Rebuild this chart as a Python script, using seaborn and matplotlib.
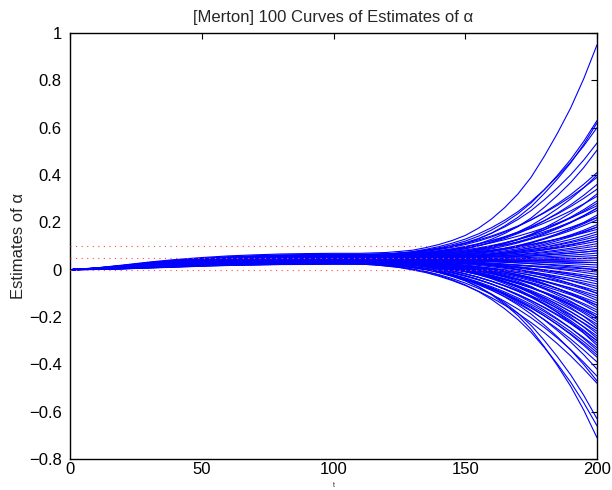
import numpy as np
import pandas as pd
import matplotlib
matplotlib.use("Agg")
import matplotlib.pyplot as plt
import seaborn as sns

# time grid on which the estimate curves are tabulated
t_knots = [0, 10, 20, 30, 40, 50, 60, 70, 80, 90, 100, 105, 110, 115, 120, 125,
           130, 135, 140, 145, 150, 155, 160, 165, 170, 175, 180, 185, 190, 195, 200]

# common path of the bundle of estimates
bundle_level = [0.000, 0.004, 0.011, 0.019, 0.026, 0.032, 0.037, 0.040, 0.043, 0.044,
                0.045, 0.045, 0.045, 0.045, 0.044, 0.044, 0.043, 0.043, 0.042, 0.041,
                0.040, 0.039, 0.038, 0.037, 0.036, 0.035, 0.034, 0.033, 0.032, 0.031,
                0.030]

# how much of each curve's early offset is present at each time
offset_weight = [0.00, 0.15, 0.35, 0.55, 0.70, 0.80, 0.88, 0.94, 0.97, 1.00,
                 1.00, 1.00, 1.00, 1.00, 1.00, 1.00, 1.00, 1.00, 1.00, 1.00,
                 1.00, 1.00, 1.00, 1.00, 1.00, 1.00, 1.00, 1.00, 1.00, 1.00,
                 1.00]

# share of the final divergence reached at each time, late-breaking curves
late_share = [0.000, 0.000, 0.000, 0.000, 0.000, 0.000, 0.000, 0.000, 0.000, 0.000,
              0.000, 0.000, 0.000, 0.002, 0.005, 0.010, 0.017, 0.029, 0.045, 0.065,
              0.090, 0.125, 0.170, 0.225, 0.290, 0.370, 0.470, 0.580, 0.700, 0.840,
              1.000]

# share of the final divergence reached at each time, early-breaking curves
early_share = [0.000, 0.000, 0.000, 0.000, 0.000, 0.000, 0.000, 0.000, 0.000, 0.000,
               0.000, 0.001, 0.003, 0.009, 0.018, 0.031, 0.049, 0.072, 0.101, 0.136,
               0.177, 0.225, 0.279, 0.341, 0.410, 0.487, 0.572, 0.666, 0.768, 0.880,
               1.000]

# estimate of alpha at t = 200 for each of the 100 curves
curve_end = [
    0.95, 0.63, 0.62, 0.60, 0.535, 0.505, 0.41, 0.40, 0.39, 0.36,
    0.34, 0.32, 0.31, 0.29, 0.28, 0.27, 0.26, 0.26, 0.25, 0.23,
    0.22, 0.22, 0.21, 0.19, 0.18, 0.18, 0.17, 0.16, 0.15, 0.14,
    0.13, 0.13, 0.12, 0.11, 0.10, 0.09, 0.08, 0.08, 0.07, 0.06,
    0.05, 0.05, 0.04, 0.03, 0.03, 0.02, 0.01, 0.00, 0.00, -0.01,
    -0.02, -0.03, -0.04, -0.04, -0.05, -0.06, -0.07, -0.08, -0.09, -0.10,
    -0.10, -0.11, -0.12, -0.13, -0.14, -0.15, -0.15, -0.16, -0.17, -0.18,
    -0.19, -0.20, -0.20, -0.21, -0.22, -0.23, -0.24, -0.25, -0.25, -0.26,
    -0.27, -0.28, -0.29, -0.30, -0.30, -0.31, -0.32, -0.33, -0.34, -0.35,
    -0.36, -0.37, -0.39, -0.42, -0.45, -0.47, -0.48, -0.63, -0.66, -0.71,
]

# early offset of each curve from the common path
curve_offset = [
    0.024, 0.018, 0.020, 0.015, 0.017, 0.012, 0.014, 0.010, 0.016, 0.008,
    0.011, 0.006, 0.013, 0.009, 0.004, 0.012, 0.007, 0.002, 0.010, 0.005,
    0.003, 0.009, -0.001, 0.006, 0.004, -0.003, 0.008, 0.001, 0.005, -0.002,
    0.003, 0.007, -0.004, 0.002, 0.000, 0.006, -0.005, 0.004, 0.001, -0.002,
    0.003, -0.006, 0.000, 0.005, -0.003, 0.002, -0.001, -0.007, 0.004, -0.004,
    0.001, -0.002, -0.008, 0.003, -0.005, -0.001, -0.009, 0.000, -0.004, -0.006,
    0.002, -0.010, -0.003, -0.007, 0.001, -0.005, -0.011, -0.002, -0.008, -0.004,
    -0.012, -0.006, -0.001, -0.009, -0.013, -0.005, -0.010, -0.003, -0.014, -0.008,
    -0.011, -0.006, -0.015, -0.009, -0.012, -0.016, -0.007, -0.013, -0.010, -0.017,
    -0.014, -0.018, -0.011, -0.016, -0.019, -0.015, -0.020, -0.018, -0.021, -0.022,
]

# how early each curve breaks away (0 = late, 1 = early)
curve_break = [
    0.0, 0.2, 0.0, 0.5, 0.3, 0.0, 0.6, 0.2, 0.8, 0.4,
    0.7, 0.1, 0.9, 0.3, 0.6, 1.0, 0.2, 0.5, 0.8, 0.0,
    0.4, 0.9, 0.6, 0.1, 0.7, 0.3, 1.0, 0.5, 0.2, 0.8,
    0.6, 0.0, 0.9, 0.4, 0.7, 0.2, 1.0, 0.5, 0.3, 0.8,
    0.1, 0.6, 0.9, 0.3, 0.7, 0.0, 0.5, 1.0, 0.2, 0.8,
    0.4, 0.9, 0.1, 0.6, 0.3, 1.0, 0.7, 0.2, 0.8, 0.5,
    0.0, 0.9, 0.6, 0.3, 1.0, 0.4, 0.8, 0.1, 0.7, 0.5,
    0.9, 0.2, 1.0, 0.6, 0.3, 0.8, 0.0, 0.7, 0.5, 1.0,
    0.4, 0.9, 0.2, 1.0, 0.6, 0.8, 0.3, 1.0, 0.7, 0.9,
    1.0, 0.8, 1.0, 0.6, 0.9, 0.5, 1.0, 0.2, 0.4, 0.0,
]

# reference levels drawn as dotted lines
reference_levels = [0.0, 0.05, 0.10]

# long-form table: one row per curve and time
tk = np.array(t_knots, dtype=float)
base = np.array(bundle_level)
w = np.array(offset_weight)
g_late = np.array(late_share)
g_early = np.array(early_share)
rows = []
for i, (e, o, b) in enumerate(zip(curve_end, curve_offset, curve_break)):
    g = (1 - b) * g_late + b * g_early
    vals = base + o * w + (e - base[-1] - o) * g
    rows.append(pd.DataFrame({"curve": i, "t": tk, "alpha": vals}))
df = pd.concat(rows, ignore_index=True)

sns.set_theme(style="white")
plt.rcParams["font.family"] = ["Liberation Sans", "DejaVu Sans"]
plt.rcParams["axes.unicode_minus"] = True

fig = plt.figure(figsize=(6.12, 4.90), dpi=100)
ax = fig.add_axes([70 / 612, 31 / 490, 527 / 612, 426 / 490])

sns.lineplot(data=df, x="t", y="alpha", units="curve", estimator=None,
             color="#0000ff", linewidth=0.8, ax=ax, legend=False)

for lvl in reference_levels:
    ax.axhline(lvl, color="#ff4a4a", linewidth=0.8, linestyle=(0, (1, 4)), zorder=5)

ax.set_xlim(0, 200)
ax.set_ylim(-0.8, 1.0)
ax.set_xticks([0, 50, 100, 150, 200])
yt = [-0.8, -0.6, -0.4, -0.2, 0, 0.2, 0.4, 0.6, 0.8, 1]
ax.set_yticks(yt)
ax.set_yticklabels([("\u2212" if v < 0 else "") + f"{abs(v):g}" for v in yt])
ax.tick_params(direction="in", length=4, width=0.8, top=True, right=True,
               labelsize=12, colors="black")
ax.tick_params(axis="y", pad=6)
ax.tick_params(axis="x", pad=2)
for s in ax.spines.values():
    s.set_visible(True)
    s.set_color("black")
    s.set_linewidth(1.0)

ax.set_title("[Merton] 100 Curves of Estimates of \u03b1", fontsize=12, pad=8)
ax.set_ylabel("Estimates of \u03b1", fontsize=12, labelpad=2)
ax.set_xlabel("t", fontsize=5, labelpad=4)

fig.savefig("out.png", dpi=100)
